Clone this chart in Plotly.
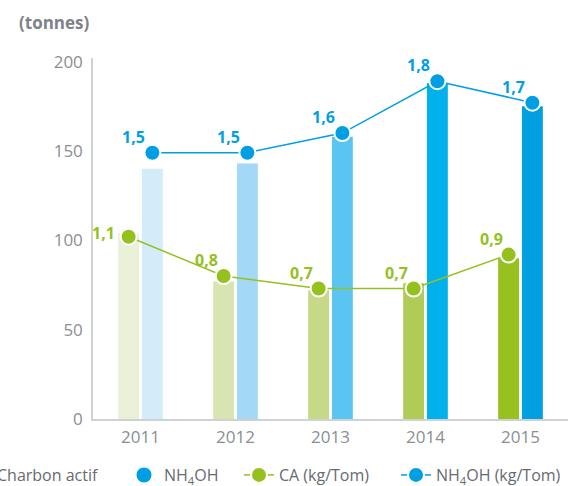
import plotly.graph_objects as go

# ---------------- data ----------------
years = ["2011", "2012", "2013", "2014", "2015"]
charbon_actif_t = [104, 77, 72, 76, 90]          # tonnes
nh4oh_t = [140, 143, 158, 188, 175]              # tonnes
ca_ratio = [1.02, 0.80, 0.73, 0.73, 0.92]        # kg/Tom (marker positions)
nh4oh_ratio = [1.49, 1.49, 1.60, 1.89, 1.77]     # kg/Tom (marker positions)
ca_labels = ["1,1", "0,8", "0,7", "0,7", "0,9"]
nh4oh_labels = ["1,5", "1,5", "1,6", "1,8", "1,7"]
y_ticks = [0, 50, 100, 150, 200]

# ---------------- style ----------------
GREEN = "#95C11F"
BLUE = "#009FE3"
green_shades = ["#EBF1D9", "#D8E5B0", "#C5D986", "#B0CB56", "#96C11F"]
blue_shades = ["#D4EBFA", "#A3D9F6", "#5BC5F2", "#00B1EB", "#009FE0"]
AXIS_COL = "#CFD2D4"
TICK_COL = "#8A8F94"
LEG_COL = "#666B70"
FONT = "Open Sans"

W, H = 583, 486
L, R, T, B = 93, 15, 58, 67
plot_w = W - L - R
plot_h = H - T - B
Y_MAX = 202
Y2_MAX = Y_MAX / 100.0
BARGAP = 0.5

idx = list(range(len(years)))
slot = (1 - BARGAP) / 2                      # width of one bar slot in category units
x_ca = [i - slot / 2 for i in idx]           # centre of the green bar in each group
x_nh = [i + slot / 2 for i in idx]           # centre of the blue bar in each group

fig = go.Figure()

fig.add_bar(x=idx, y=charbon_actif_t, marker=dict(color=green_shades, line=dict(width=0)),
            showlegend=False, name="Charbon actif")
fig.add_bar(x=idx, y=nh4oh_t, marker=dict(color=blue_shades, line=dict(width=0)),
            showlegend=False, name="NH<sub>4</sub>OH")

fig.add_scatter(x=x_ca, y=ca_ratio, yaxis="y2", mode="lines+markers",
                line=dict(color=GREEN, width=1.5),
                marker=dict(size=16, color=GREEN, line=dict(color="white", width=2)),
                name="CA (kg/Tom)", legend="legend3")
fig.add_scatter(x=x_nh, y=nh4oh_ratio, yaxis="y2", mode="lines+markers",
                line=dict(color=BLUE, width=1.5),
                marker=dict(size=16, color=BLUE, line=dict(color="white", width=2)),
                name="NH<sub>4</sub>OH (kg/Tom)", legend="legend4")

# legend-only entries for the bar series (round symbols)
fig.add_scatter(x=[None], y=[None], mode="markers",
                marker=dict(size=15, color=GREEN), name="Charbon actif", legend="legend")
fig.add_scatter(x=[None], y=[None], mode="markers",
                marker=dict(size=15, color=BLUE), name="NH<sub>4</sub>OH", legend="legend2")

# value labels
ann = []
for i, (xv, v, lab) in enumerate(zip(x_ca, ca_ratio, ca_labels)):
    dx, dy = (-12, 4) if i == 0 else (-4, 16)
    ann.append(dict(x=xv, y=v, xref="x", yref="y2", text=f"<b>{lab}</b>", showarrow=False,
                    xanchor="right", yanchor="middle", xshift=dx, yshift=dy,
                    font=dict(family=FONT, size=16, color=GREEN)))
for xv, v, lab in zip(x_nh, nh4oh_ratio, nh4oh_labels):
    ann.append(dict(x=xv, y=v, xref="x", yref="y2", text=f"<b>{lab}</b>", showarrow=False,
                    xanchor="right", yanchor="middle", xshift=-5, yshift=16,
                    font=dict(family=FONT, size=16, color=BLUE)))
ann.append(dict(x=(17 - L) / plot_w, y=(H - B - 22) / plot_h, xref="paper", yref="paper",
                text="<b>(tonnes)</b>", showarrow=False, xanchor="left", yanchor="middle",
                font=dict(family=FONT, size=17, color="#7D8288")))

def px_to_paper_x(px):
    return (px - L) / plot_w

leg_y = (H - B - 475) / plot_h
leg_common = dict(orientation="h", yref="paper", y=leg_y, yanchor="middle", xanchor="left",
                  bgcolor="rgba(0,0,0,0)", font=dict(family=FONT, size=16, color=LEG_COL))

fig.update_layout(
    width=W, height=H,
    margin=dict(l=L, r=R, t=T, b=B, autoexpand=False),
    paper_bgcolor="white", plot_bgcolor="white",
    barmode="group", bargap=BARGAP, bargroupgap=0.12,
    font=dict(family=FONT, size=17, color=TICK_COL),
    xaxis=dict(range=[-0.5, len(years) - 0.5], tickvals=idx, ticktext=years,
               showgrid=False, showline=True, linecolor=AXIS_COL, linewidth=1.5,
               ticks="outside", ticklen=2, tickcolor="rgba(0,0,0,0)",
               tickfont=dict(family=FONT, size=17, color=TICK_COL), zeroline=False),
    yaxis=dict(range=[0, Y_MAX], tickvals=y_ticks, showgrid=False, showline=True,
               linecolor=AXIS_COL, linewidth=1.5, zeroline=False,
               ticks="outside", ticklen=5, tickcolor="rgba(0,0,0,0)",
               tickfont=dict(family=FONT, size=17, color=TICK_COL)),
    yaxis2=dict(range=[0, Y2_MAX], overlaying="y", visible=False),
    showlegend=True,
    legend=dict(x=px_to_paper_x(-43), **leg_common),
    legend2=dict(x=px_to_paper_x(124), **leg_common),
    legend3=dict(x=px_to_paper_x(239), **leg_common),
    legend4=dict(x=px_to_paper_x(396), **leg_common),
    annotations=ann,
    hovermode=False,
)

fig.write_html("out.html")
